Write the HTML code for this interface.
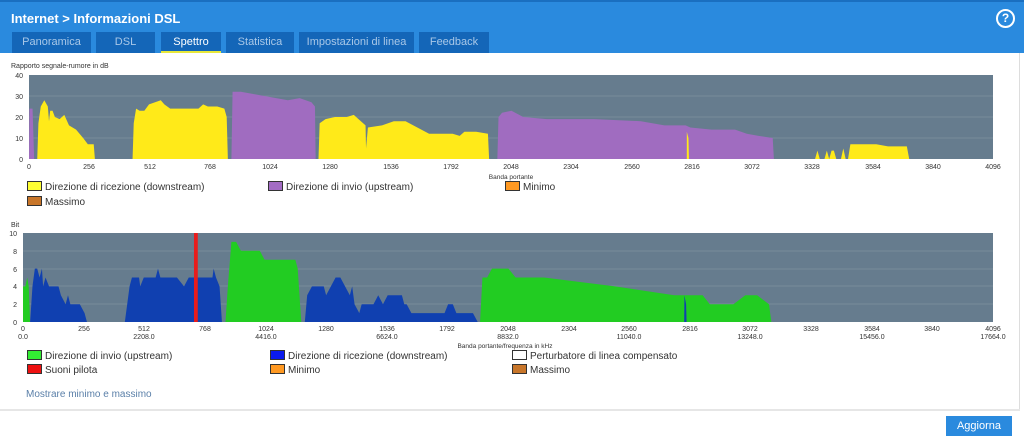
<!DOCTYPE html>
<html><head><meta charset="utf-8"><style>
body{margin:0;width:1024px;height:442px;background:#fff;font-family:"Liberation Sans",sans-serif;overflow:hidden;position:relative}
.hdr{position:absolute;left:0;top:0;width:1024px;height:53px;background:#2a8ade;border-top:2px solid #1a6fc0;box-sizing:border-box}
.title{position:absolute;left:11px;top:9px;color:#fff;font-size:13px;font-weight:bold}
.tab{position:absolute;top:32px;height:21px;background:#1466b8;color:#a9c8e8;font-size:11px;text-align:center;line-height:20px}
.tab.act{color:#fff;border-bottom:2px solid #e8e83a;box-sizing:border-box}
.help{position:absolute;left:996px;top:7px;width:15px;height:15px;border:2px solid #fff;border-radius:50%;color:#fff;font-size:12px;font-weight:bold;text-align:center;line-height:15px}
.lg{position:absolute;font-size:10px;color:#333;white-space:nowrap}
.lg i{display:inline-block;width:13px;height:8px;border:1px solid #333;margin-right:3px;vertical-align:-1px}
.btn{position:absolute;left:946px;top:416px;width:66px;height:20px;background:#2a8ade;color:#fff;font-size:11px;text-align:center;line-height:20px}
</style></head><body>
<div class="hdr"><div class="title">Internet &gt; Informazioni DSL</div><div class="help">?</div></div>
<div class="tab" style="left:12px;width:79px">Panoramica</div>
<div class="tab" style="left:96px;width:59px">DSL</div>
<div class="tab act" style="left:161px;width:60px">Spettro</div>
<div class="tab" style="left:226px;width:68px">Statistica</div>
<div class="tab" style="left:299px;width:115px">Impostazioni di linea</div>
<div class="tab" style="left:419px;width:70px">Feedback</div>
<div style="position:absolute;left:1019px;top:53px;width:1px;height:357px;background:#ddd"></div>
<svg width="1024" height="442" style="position:absolute;left:0;top:0" font-family="Liberation Sans,sans-serif">
<text x="11" y="68" font-size="7" fill="#333">Rapporto segnale-rumore in dB</text>
<rect x="29" y="75" width="964" height="84" fill="#667c8e"/>
<g stroke="#8a9aa8" stroke-width="0.6"><line x1="29" x2="993" y1="96" y2="96"/><line x1="29" x2="993" y1="117" y2="117"/><line x1="29" x2="993" y1="138" y2="138"/></g>
<g transform="translate(29,159) scale(0.23535,-2.1)">
<polygon fill="#a06cc0" points="0,0 2,24 15,24 22,0"/>
<polygon fill="#ffea19" points="35,0 40,17 50,25 65,28 80,25 85,18 90,23 100,23 110,20 130,19 150,21 170,16 185,15 200,14 230,10 250,7 275,7 280,0"/>
<polygon fill="#ffea19" points="440,0 445,17 455,24 470,23 490,23 510,26 560,28 575,26 600,24 650,24 720,24 740,26 760,25 800,25 830,24 840,20 845,0"/>
<polygon fill="#a06cc0" points="860,0 865,32 900,32 950,31 1000,30 1050,29 1100,28 1150,29 1200,27 1215,25 1218,0"/>
<polygon fill="#ffea19" points="1230,0 1235,17 1260,19 1300,20 1350,20 1380,21 1400,19 1430,16 1432,5 1440,15 1500,16 1550,18 1600,18 1650,15 1700,12 1800,12 1830,11 1850,13 1900,13 1950,12 1955,0"/>
<polygon fill="#a06cc0" points="1990,0 1995,20 2010,22 2050,23 2100,20 2200,19 2400,19 2600,18 2700,16 2790,16 2810,15 2900,14 3000,14 3050,12 3100,11 3160,10 3165,0"/>
<polygon fill="#ffea19" points="2795,0 2795,13 2802,10 2804,0"/>
<polygon fill="#ffea19" points="3340,0 3350,4 3360,0 3380,0 3390,4 3400,0 3410,4 3420,4 3430,0 3450,0 3460,5 3470,0 3480,0 3490,7 3600,7 3650,6 3730,6 3740,0"/>
</g>
<g font-size="7" fill="#333" text-anchor="end"><text x="23" y="78">40</text><text x="23" y="99">30</text><text x="23" y="120">20</text><text x="23" y="141">10</text><text x="23" y="162">0</text></g>
<g font-size="7" fill="#333" text-anchor="middle">
<text x="29" y="169">0</text><text x="89" y="169">256</text><text x="150" y="169">512</text><text x="210" y="169">768</text><text x="270" y="169">1024</text><text x="330" y="169">1280</text><text x="391" y="169">1536</text><text x="451" y="169">1792</text><text x="511" y="169">2048</text><text x="571" y="169">2304</text><text x="632" y="169">2560</text><text x="692" y="169">2816</text><text x="752" y="169">3072</text><text x="812" y="169">3328</text><text x="873" y="169">3584</text><text x="933" y="169">3840</text><text x="993" y="169">4096</text>
<text x="511" y="179" font-size="6.5">Banda portante</text></g>
<text x="11" y="227" font-size="7" fill="#333">Bit</text>
<rect x="23" y="233" width="970" height="89" fill="#667c8e"/>
<g stroke="#8a9aa8" stroke-width="0.6"><line x1="23" x2="993" y1="251" y2="251"/><line x1="23" x2="993" y1="269" y2="269"/><line x1="23" x2="993" y1="286" y2="286"/><line x1="23" x2="993" y1="304" y2="304"/></g>
<g transform="translate(23,322) scale(0.23682,-8.9)">
<polygon fill="#22cc22" points="0,0 0,4 10,4 18,5 24,4 30,0"/>
<polygon fill="#1040b0" points="30,0 40,4 50,6 60,6 70,5 80,6 85,4 95,5 110,4 150,4 160,3 180,2 190,3 200,2 240,2 260,1 270,0"/>
<polygon fill="#1040b0" points="430,0 440,2 450,4 460,5 490,5 495,4 510,5 560,5 570,6 580,5 600,5 650,5 680,4 700,5 720,5 800,5 805,6 815,5 830,4 840,0"/>
<polygon fill="#22cc22" points="855,0 865,4 880,9 900,9 920,8 1000,8 1020,7 1150,7 1160,6 1175,0"/>
<polygon fill="#1040b0" points="1190,0 1200,3 1220,4 1270,4 1280,3 1300,4 1320,5 1340,5 1360,4 1380,3 1390,4 1400,2 1420,1 1430,2 1480,2 1500,3 1520,2 1540,3 1600,3 1610,2 1620,2 1640,1 1780,1 1795,2 1815,2 1830,1 1900,1 1920,0"/>
<polygon fill="#22cc22" points="1930,0 1940,5 1960,5 1980,6 2050,6 2080,5 2200,5 2500,4 2750,3 2790,3 2810,3 2870,3 2900,2 3000,2 3050,3 3100,3 3150,2 3160,0"/>
<polygon fill="#1040b0" points="2792,0 2793,3 2800,2 2802,0"/>
<rect x="722" y="0" width="16" height="10" fill="#e81c1c"/>
</g>
<g font-size="7" fill="#333" text-anchor="end"><text x="17" y="236">10</text><text x="17" y="254">8</text><text x="17" y="272">6</text><text x="17" y="289">4</text><text x="17" y="307">2</text><text x="17" y="325">0</text></g>
<g font-size="7" fill="#333" text-anchor="middle">
<text x="23" y="331">0</text><text x="84" y="331">256</text><text x="144" y="331">512</text><text x="205" y="331">768</text><text x="266" y="331">1024</text><text x="326" y="331">1280</text><text x="387" y="331">1536</text><text x="447" y="331">1792</text><text x="508" y="331">2048</text><text x="569" y="331">2304</text><text x="629" y="331">2560</text><text x="690" y="331">2816</text><text x="750" y="331">3072</text><text x="811" y="331">3328</text><text x="872" y="331">3584</text><text x="932" y="331">3840</text><text x="993" y="331">4096</text>
<text x="23" y="339">0.0</text><text x="144" y="339">2208.0</text><text x="266" y="339">4416.0</text><text x="387" y="339">6624.0</text><text x="508" y="339">8832.0</text><text x="629" y="339">11040.0</text><text x="750" y="339">13248.0</text><text x="872" y="339">15456.0</text><text x="993" y="339">17664.0</text>
<text x="505" y="348" font-size="6.5">Banda portante/frequenza in kHz</text></g>
<line x1="0" x2="1020" y1="410" y2="410" stroke="#e6e6e6" stroke-width="2"/>
</svg>
<div class="lg" style="left:27px;top:181px"><i style="background:#ffff33"></i>Direzione di ricezione (downstream)</div>
<div class="lg" style="left:268px;top:181px"><i style="background:#a36cc4"></i>Direzione di invio (upstream)</div>
<div class="lg" style="left:505px;top:181px"><i style="background:#ff9922"></i>Minimo</div>
<div class="lg" style="left:27px;top:196px"><i style="background:#c8762a"></i>Massimo</div>
<div class="lg" style="left:27px;top:350px"><i style="background:#33ee33"></i>Direzione di invio (upstream)</div>
<div class="lg" style="left:270px;top:350px"><i style="background:#0a1aee"></i>Direzione di ricezione (downstream)</div>
<div class="lg" style="left:512px;top:350px"><i style="background:#fff"></i>Perturbatore di linea compensato</div>
<div class="lg" style="left:27px;top:364px"><i style="background:#ee1111"></i>Suoni pilota</div>
<div class="lg" style="left:270px;top:364px"><i style="background:#ff9922"></i>Minimo</div>
<div class="lg" style="left:512px;top:364px"><i style="background:#c8762a"></i>Massimo</div>
<div style="position:absolute;left:26px;top:389px;font-size:10px;color:#5a7fa8">Mostrare minimo e massimo</div>
<div class="btn">Aggiorna</div>
</body></html>
